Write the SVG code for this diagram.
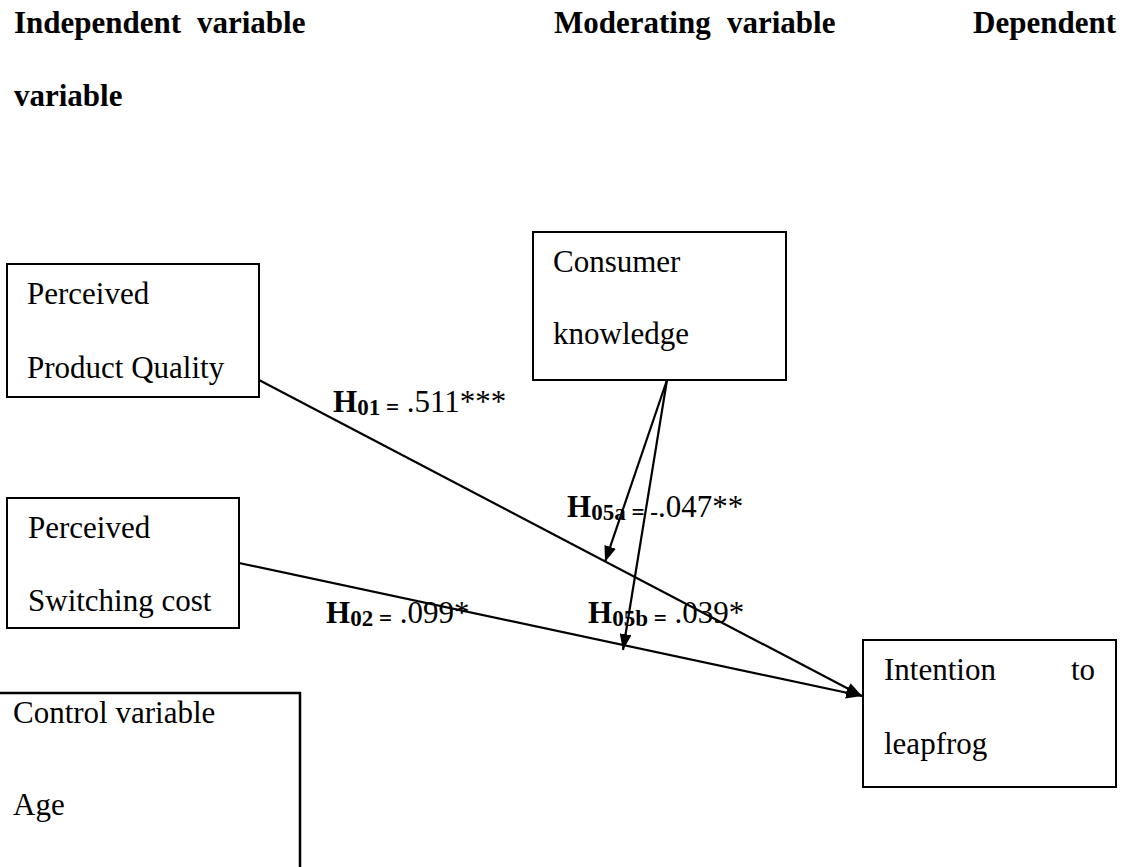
<svg xmlns="http://www.w3.org/2000/svg" width="1132" height="867" viewBox="0 0 1132 867">
<defs>
<style>
text{font-family:"Liberation Serif","Times New Roman",serif;font-size:31px;fill:#000}
.hd{font-weight:bold}
.b{font-weight:bold}
.sub{font-weight:bold;font-size:23px}
.box{fill:#fff;stroke:#000;stroke-width:2}
.ln{stroke:#000;stroke-width:2.2;fill:none}
</style>
<marker id="ah" markerUnits="userSpaceOnUse" markerWidth="17" markerHeight="12" refX="16" refY="6" orient="auto">
<path d="M0,0 L16,6 L0,12 z" fill="#000"/>
</marker>
</defs>
<rect width="1132" height="867" fill="#fff"/>
<g id="headers">
<text class="hd" x="14" y="33">Independent</text>
<text class="hd" x="197" y="33">variable</text>
<text class="hd" x="554" y="33">Moderating</text>
<text class="hd" x="727" y="33">variable</text>
<text class="hd" x="973" y="33">Dependent</text>
<text class="hd" x="14" y="106">variable</text>
</g>
<g id="node-quality">
<rect class="box" x="7" y="264" width="252" height="133"/>
<text x="27" y="304">Perceived</text>
<text x="27" y="378">Product Quality</text>
</g>
<g id="node-switching">
<rect class="box" x="7" y="498" width="232" height="130"/>
<text x="28" y="538">Perceived</text>
<text x="28" y="611">Switching cost</text>
</g>
<g id="node-knowledge">
<rect class="box" x="533" y="232" width="253" height="148"/>
<text x="553" y="272">Consumer</text>
<text x="553" y="344">knowledge</text>
</g>
<g id="node-intention">
<rect class="box" x="863" y="640" width="253" height="147"/>
<text x="884" y="680">Intention</text>
<text x="1071" y="680">to</text>
<text x="884" y="754">leapfrog</text>
</g>
<g id="node-control">
<rect class="box" x="-2" y="693" width="302" height="200" style="stroke-width:2.5"/>
<text x="13" y="723">Control variable</text>
<text x="13" y="815">Age</text>
</g>
<g id="connectors">
<line class="ln" x1="259" y1="380" x2="862" y2="696" marker-end="url(#ah)"/>
<line class="ln" x1="239" y1="563" x2="862" y2="696" marker-end="url(#ah)"/>
<line class="ln" x1="667" y1="380" x2="605" y2="562" marker-end="url(#ah)"/>
<line class="ln" x1="667" y1="380" x2="623" y2="650" marker-end="url(#ah)"/>
</g>
<g id="labels">
<text x="333" y="412"><tspan class="b">H</tspan><tspan class="sub" dy="3">01 =</tspan><tspan dy="-3"> .511***</tspan></text>
<text x="567" y="517"><tspan class="b">H</tspan><tspan class="sub" dy="3">05a = -</tspan><tspan dy="-3">.047**</tspan></text>
<text x="326" y="623"><tspan class="b">H</tspan><tspan class="sub" dy="3">02 =</tspan><tspan dy="-3"> .099*</tspan></text>
<text x="588" y="623"><tspan class="b">H</tspan><tspan class="sub" dy="3">05b =</tspan><tspan dy="-3"> .039*</tspan></text>
</g>
</svg>
